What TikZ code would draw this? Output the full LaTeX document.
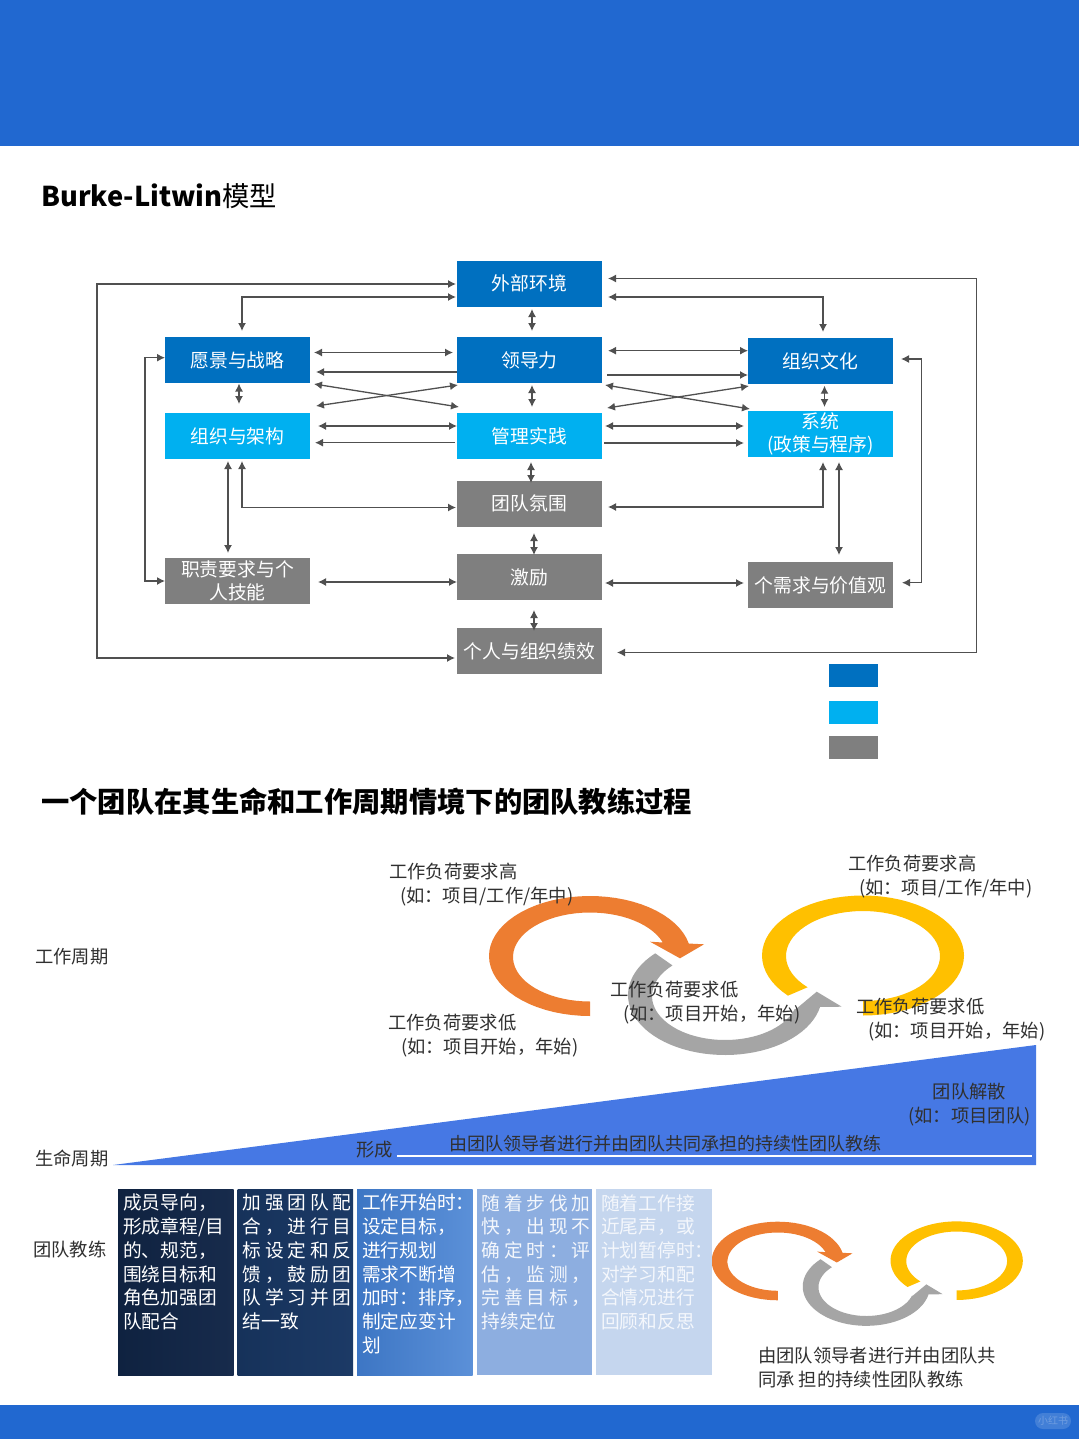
\documentclass[tikz,border=0pt]{standalone}
\usepackage{fontspec}
\setmainfont{Noto Sans CJK SC}
\usepackage{xcolor}
\usetikzlibrary{positioning,arrows.meta}

\definecolor{bandblue}{HTML}{2168D0}
\definecolor{modeldark}{HTML}{0070C0}
\definecolor{modellight}{HTML}{00B0F0}
\definecolor{modelgray}{HTML}{7F7F7F}
\definecolor{wedgeblue}{HTML}{4678E4}
\definecolor{swirlorange}{HTML}{ED7D31}
\definecolor{swirlyellow}{HTML}{FFC000}
\definecolor{swirlgray}{HTML}{A5A5A5}
\definecolor{inkgray}{HTML}{303030}
\definecolor{linegray}{HTML}{505050}
\definecolor{stageone}{HTML}{0F2240}
\definecolor{stageoneend}{HTML}{172B4C}
\definecolor{stagetwo}{HTML}{16325A}
\definecolor{stagetwoend}{HTML}{1C3A66}
\definecolor{stagethree}{HTML}{3D76C4}
\definecolor{stagethreeend}{HTML}{5B90D8}
\definecolor{stagefour}{HTML}{8DAEE0}
\definecolor{stagefive}{HTML}{C5D6EE}

\tikzset{
  modelbox/.style={minimum width=145pt, minimum height=46pt, inner sep=0pt, outer sep=0pt, align=center, text=white,
    font=\fontsize{18.8pt}{23pt}\selectfont},
  darkbox/.style={modelbox, fill=modeldark},
  lightbox/.style={modelbox, fill=modellight},
  graybox/.style={modelbox, fill=modelgray},
  legendbox/.style={minimum width=49pt, minimum height=23pt, outer sep=0pt},
  link/.style={draw=linegray, line width=1.3pt, {Latex[length=8pt,width=8pt]}-{Latex[length=8pt,width=8pt]}},
  oneway/.style={draw=linegray, line width=1.3pt, -{Latex[length=8pt,width=8pt]}},
  note/.style={anchor=north west, inner sep=0pt, align=left, text=inkgray,
    font=\fontsize{18.3pt}{24pt}\selectfont},
  rowlabel/.style={anchor=west, inner sep=0pt, text=inkgray, font=\fontsize{18.3pt}{24pt}\selectfont},
  phasebox/.style={minimum width=115.5pt, minimum height=186pt, inner sep=0pt, outer sep=0pt},
  phasetext/.style={anchor=north west, inner sep=0pt, align=left, text=#1,
    font=\fontsize{18.7pt}{23.7pt}\selectfont},
  phasewide/.style={phasetext=#1, font=\fontsize{18.7pt}{23.7pt}\selectfont\addfontfeature{LetterSpace=20}},
  title/.style={anchor=west, inner sep=0pt, text=black, font=\fontsize{28.3pt}{32pt}\selectfont}
}

\newcommand{\swirlpair}{
  \fill[swirlorange] plot[domain=90:348,samples=50] ({590+101*cos(\x)},{956+60*sin(\x)})
    -- (704,944.3) -- (680,958.3) -- (650,941.7)
    -- plot[domain=341:90,samples=50] ({590+77*cos(\x)},{957+44.5*sin(\x)}) -- cycle;
  \fill[swirlyellow] plot[domain=90:-222,samples=60] ({863+101*cos(\x)},{955.5+60*sin(\x)})
    -- plot[domain=-224:90,samples=60] ({863+77*cos(\x)},{956+45*sin(\x)}) -- cycle;
  \fill[swirlgray] plot[domain=224:11.5,samples=50] ({725+97*cos(\x)},{995+60*sin(\x)})
    -- (841.7,1006.7) -- (816.7,991.7) -- (796,1009)
    -- plot[domain=17:224,samples=50] ({725+73*cos(\x)},{996+44*sin(\x)}) -- cycle;
}

\begin{document}
\begin{tikzpicture}[x=1pt, y=-1pt, node distance=30pt]
    \useasboundingbox (0,0) rectangle (1080,1439);
    \fill[white] (0,0) rectangle (1080,1439);
    \fill[bandblue] (0,0) rectangle (1079,146);
    \fill[bandblue] (0,1405) rectangle (1079,1439);
    \node[fill=bandblue!85!white, rounded corners=8pt, minimum width=36pt, minimum height=16pt, inner sep=0pt,
      text=bandblue!65!white, font=\fontsize{10pt}{12pt}\selectfont] (mark) at (1053,1421) {小红书};

    \node[title, font=\fontsize{27.3pt}{32pt}\selectfont] (modeltitle) at (41,196) {\textbf{Burke-Litwin}模型};
    \node[title] (teamtitle) at (41,802) {\textbf{一个团队在其生命和工作周期情境下的团队教练过程}};

    \node[darkbox] (outer) at (529.5,283.5) {外部环境};
    \node[darkbox, below=30.5pt of outer] (leader) {领导力};
    \node[lightbox, below=30pt of leader] (practice) {管理实践};
    \node[graybox, below=21.5pt of practice] (climate) {团队氛围};
    \node[graybox, below=27.5pt of climate] (motive) {激励};
    \node[graybox, below=28pt of motive] (perf) {个人与组织绩效};
    \node[darkbox, left=147pt of leader] (vision) {愿景与战略};
    \node[lightbox, below=30pt of vision] (struct) {组织与架构};
    \node[graybox, below=98.5pt of struct] (skills) {职责要求与个\\人技能};
    \node[darkbox, right=146pt of leader, yshift=-1pt] (culture) {组织文化};
    \node[lightbox, below=27pt of culture] (systems) {系统\\(政策与程序)};
    \node[graybox, below=105pt of systems] (needs) {个需求与价值观};

    \node[fill=modeldark, legendbox] (legenddark) at (853.5,675) {};
    \node[fill=modellight, legendbox, below=14pt of legenddark] (legendlight) {};
    \node[fill=modelgray, legendbox, below=12.5pt of legendlight] (legendgray) {};

    \coordinate (railouterleft) at (97,470);
    \coordinate (railinnerleft) at (145,470);
    \coordinate (railouterright) at (976.7,470);
    \coordinate (railinnerright) at (921.7,470);

    \draw[link] ([shift={(-1,.5)}]outer.west) -| (railouterleft) |- ([shift={(-2,7)}]perf.west);
    \draw[link] ([shift={(-1,13.5)}]outer.west) -| ([shift={(4.5,-6)}]vision.north);
    \draw[link] ([shift={(6,-5)}]outer.east) -| (railouterright) |- ([shift={(15,1.5)}]perf.east);
    \draw[link] ([shift={(6,13.5)}]outer.east) -| ([shift={(2.5,-6)}]culture.north);
    \draw[link] ([shift={(0,-2.3)}]vision.west) -| (railinnerleft) |- ([shift={(0,.5)}]skills.west);
    \draw[link] ([shift={(8,-2)}]culture.east) -| (railinnerright) |- ([shift={(9,-2.3)}]needs.east);

    \draw[link] ([shift={(2.5,2.5)}]outer.south) -- ([shift={(2.5,-6)}]leader.north);
    \draw[link] ([shift={(2.5,2)}]leader.south) -- ([shift={(2.5,-6)}]practice.north);
    \draw[link] ([shift={(1.5,3)}]practice.south) -- ([shift={(1.5,2.5)}]climate.north);
    \draw[link] ([shift={(4.5,6.5)}]climate.south) -- ([shift={(4.5,1)}]motive.north);
    \draw[link] ([shift={(4.5,10)}]motive.south) -- ([shift={(4.5,3)}]perf.north);
    \draw[link] ([shift={(1.5,.5)}]vision.south) -- ([shift={(1.5,-9)}]struct.north);
    \draw[link] ([shift={(-9.5,2)}]struct.south) -- ([shift={(-9.5,-4.5)}]skills.north);
    \draw[link] ([shift={(4.5,2)}]struct.south) |- ([shift={(-1,4)}]climate.west);
    \draw[link] ([shift={(4,1.7)}]culture.south) -- ([shift={(4,-4)}]systems.north);
    \draw[link] ([shift={(2.5,5)}]systems.south) |- ([shift={(6,3.5)}]climate.east);
    \draw[link] ([shift={(18.5,5)}]systems.south) -- ([shift={(18.5,-7)}]needs.north);

    \draw[link] ([shift={(4,-7.5)}]vision.east) -- ([shift={(-4,-7.5)}]leader.west);
    \draw[oneway] ([shift={(0,12)}]leader.west) -- ([shift={(6,12)}]vision.east);
    \draw[link] ([shift={(4,24)}]vision.east) -- ([shift={(2,-29)}]practice.west);
    \draw[link] ([shift={(6,-30)}]struct.east) -- ([shift={(1,25)}]leader.west);
    \draw[link] ([shift={(8,-10)}]struct.east) -- ([shift={(0,-10)}]practice.west);
    \draw[oneway] ([shift={(-2,6.7)}]practice.west) -- ([shift={(5,6.7)}]struct.east);
    \draw[link] ([shift={(8,1.5)}]skills.east) -- ([shift={(0,5)}]motive.west);

    \draw[link] ([shift={(6,-9.3)}]leader.east) -- ([shift={(0,-10.3)}]culture.west);
    \draw[oneway] ([shift={(5,15)}]leader.east) -- ([shift={(0,14)}]culture.west);
    \draw[link] ([shift={(3,25)}]leader.east) -- ([shift={(2,-25)}]systems.west);
    \draw[link] ([shift={(5,-28)}]practice.east) -- ([shift={(1,25)}]culture.west);
    \draw[link] ([shift={(3,-10)}]practice.east) -- ([shift={(-4,-8)}]systems.west);
    \draw[oneway] ([shift={(2,7)}]practice.east) -- ([shift={(-4,9)}]systems.west);
    \draw[link] ([shift={(3,6)}]motive.east) -- ([shift={(-4,-2)}]needs.west);

    \swirlpair
    \begin{scope}[shift={(391.4,634.8)}, scale=.655]
      \swirlpair
    \end{scope}

    \fill[wedgeblue] (113,1165) -- (1036,1045) -- (1036,1165) -- cycle;
    \coordinate (basestart) at (397,1156);
    \coordinate (baseend) at (1032,1156);
    \draw[white, line width=1.3pt] (basestart) -- (baseend);

    \node[rowlabel] (workcycle) at (35,957) {工作周期};
    \node[rowlabel] (lifecycle) at (35,1158) {生命周期};
    \node[rowlabel] (coaching) at (33,1250) {团队教练};
    \node[rowlabel] (forming) at (356,1150) {形成};
    \node[rowlabel, font=\fontsize{18pt}{24pt}\selectfont] (shared) at (449,1144) {由团队领导者进行并由团队共同承担的持续性团队教练};
    \node[note] (highleft) at (389,863) {工作负荷要求高\\\hspace*{11pt}(如：项目/工作/年中)};
    \node[note] (highright) at (848,855) {工作负荷要求高\\\hspace*{11pt}(如：项目/工作/年中)};
    \node[note] (lowleft) at (388,1014) {工作负荷要求低\\\hspace*{13pt}(如：项目开始，年始)};
    \node[note] (lowmid) at (610,981) {工作负荷要求低\\\hspace*{13pt}(如：项目开始，年始)};
    \node[note] (lowright) at (856,998) {工作负荷要求低\\\hspace*{12pt}(如：项目开始，年始)};
    \node[note, align=center, anchor=north] (disband) at (969.5,1083) {团队解散\\(如：项目团队)};
    \node[note] (sharedbelow) at (758,1347) {由团队领导者进行并由团队共\\同承 担的持续性团队教练};

    \node[phasebox, anchor=north west, left color=stageone, right color=stageoneend] (phaseone) at (118,1189) {};
    \node[phasebox, left color=stagetwo, right color=stagetwoend, right=4pt of phaseone] (phasetwo) {};
    \node[phasebox, left color=stagethree, right color=stagethreeend, right=4pt of phasetwo] (phasethree) {};
    \node[phasebox, fill=stagefour, right=4pt of phasethree] (phasefour) {};
    \node[phasebox, fill=stagefive, right=4pt of phasefour] (phasefive) {};

    \node[phasetext=white] (textone) at ([shift={(5,5)}]phaseone.north west)
      {成员导向，\\形成章程/目\\的、规范，\\围绕目标和\\角色加强团\\队配合};
    \node[phasewide=white] (texttwo) at ([shift={(5,5)}]phasetwo.north west)
      {加强团队配\\合，进行目\\标设定和反\\馈，鼓励团\\队学习并团\\\addfontfeature{LetterSpace=0}结一致};
    \node[phasetext=white] (textthree) at ([shift={(5,5)}]phasethree.north west)
      {工作开始时：\\设定目标，\\进行规划\\需求不断增\\加时：排序，\\制定应变计\\划};
    \node[phasewide=white!90!stagefour] (textfour) at ([shift={(5,5)}]phasefour.north west)
      {随着步伐加\\快，出现不\\确定时：评\\估，监测，\\完善目标，\\\addfontfeature{LetterSpace=0}持续定位};
    \node[phasetext=white!80!stagefive] (textfive) at ([shift={(5,5)}]phasefive.north west)
      {随着工作接\\近尾声，或\\计划暂停时：\\对学习和配\\合情况进行\\回顾和反思};
\end{tikzpicture}
\end{document}
